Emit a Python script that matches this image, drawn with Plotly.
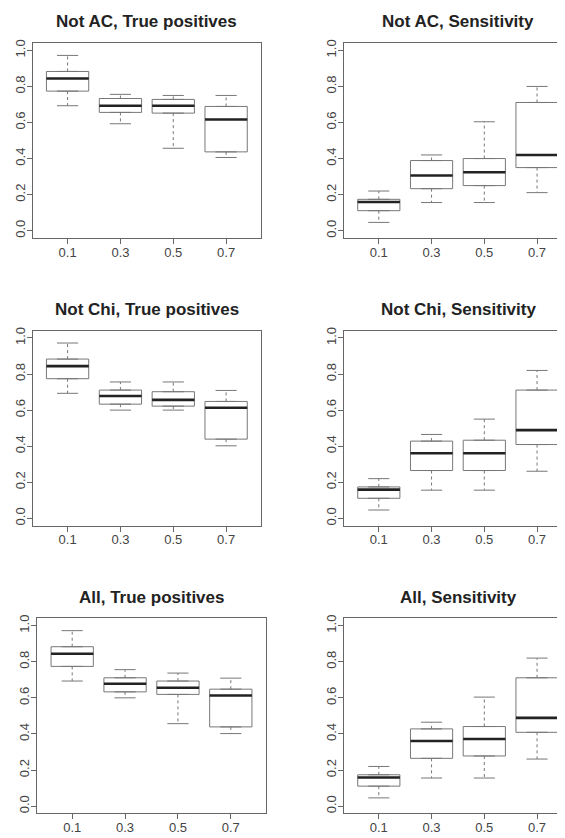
import plotly.graph_objects as go

# ---- data ----
categories = ["0.1", "0.3", "0.5", "0.7"]
titles = ["Not AC, True positives", "Not AC, Sensitivity",
          "Not Chi, True positives", "Not Chi, Sensitivity",
          "All, True positives", "All, Sensitivity"]

notac_tp_lower = [0.693, 0.593, 0.457, 0.406]
notac_tp_q1 = [0.774, 0.656, 0.652, 0.437]
notac_tp_med = [0.844, 0.693, 0.693, 0.617]
notac_tp_q3 = [0.883, 0.733, 0.728, 0.689]
notac_tp_upper = [0.972, 0.756, 0.750, 0.750]

notac_se_lower = [0.046, 0.156, 0.156, 0.211]
notac_se_q1 = [0.111, 0.233, 0.250, 0.350]
notac_se_med = [0.159, 0.306, 0.324, 0.420]
notac_se_q3 = [0.174, 0.389, 0.400, 0.711]
notac_se_upper = [0.220, 0.420, 0.604, 0.800]

notchi_tp_lower = [0.693, 0.600, 0.600, 0.402]
notchi_tp_q1 = [0.774, 0.633, 0.622, 0.439]
notchi_tp_med = [0.844, 0.678, 0.657, 0.613]
notchi_tp_q3 = [0.883, 0.711, 0.702, 0.648]
notchi_tp_upper = [0.972, 0.756, 0.756, 0.709]

notchi_se_lower = [0.046, 0.156, 0.156, 0.261]
notchi_se_q1 = [0.111, 0.265, 0.265, 0.409]
notchi_se_med = [0.159, 0.361, 0.361, 0.489]
notchi_se_q3 = [0.174, 0.428, 0.433, 0.711]
notchi_se_upper = [0.220, 0.465, 0.550, 0.820]

all_tp_lower = [0.693, 0.600, 0.457, 0.402]
all_tp_q1 = [0.774, 0.633, 0.619, 0.439]
all_tp_med = [0.844, 0.678, 0.656, 0.613]
all_tp_q3 = [0.883, 0.711, 0.693, 0.648]
all_tp_upper = [0.972, 0.756, 0.737, 0.709]

all_se_lower = [0.046, 0.156, 0.156, 0.261]
all_se_q1 = [0.111, 0.265, 0.278, 0.409]
all_se_med = [0.159, 0.361, 0.372, 0.489]
all_se_q3 = [0.174, 0.428, 0.441, 0.711]
all_se_upper = [0.220, 0.465, 0.604, 0.820]

panels = [
    (notac_tp_lower, notac_tp_q1, notac_tp_med, notac_tp_q3, notac_tp_upper),
    (notac_se_lower, notac_se_q1, notac_se_med, notac_se_q3, notac_se_upper),
    (notchi_tp_lower, notchi_tp_q1, notchi_tp_med, notchi_tp_q3, notchi_tp_upper),
    (notchi_se_lower, notchi_se_q1, notchi_se_med, notchi_se_q3, notchi_se_upper),
    (all_tp_lower, all_tp_q1, all_tp_med, all_tp_q3, all_tp_upper),
    (all_se_lower, all_se_q1, all_se_med, all_se_q3, all_se_upper),
]

# ---- layout geometry ----
OFF = 8                      # page body margin of the html file
W, H = 565 - OFF, 838 - OFF  # figure size so that it fills the window
BOXW = 0.8
CAPW = 0.4
FRAME = "#666666"
BOXC = "#777777"
TXT = "#444444"
FONT = "Liberation Sans, Arial, sans-serif"

# frames in window pixels (left, right, top, bottom)
frames = [
    (32.7, 261.0, 39.3, 235.0), (344.0, 565.0, 39.3, 235.0),
    (32.7, 261.0, 328.3, 524.0), (344.0, 565.0, 328.3, 524.0),
    (37.3, 265.7, 617.3, 813.3), (344.0, 565.0, 617.3, 813.3),
]
xranges = [[0.34, 4.66], [0.34, 4.53]] * 3
title_centers = [(146.9, 18), (458, 18), (146.9, 306.7), (458, 306.7),
                 (151.5, 596), (458, 596)]


def px_x(v):
    return (v - OFF) / W


def px_y(v):
    return 1 - (v - OFF) / H


fig = go.Figure()
pos = [1, 2, 3, 4]
annotations = []
for i, (lo, q1, med, q3, up) in enumerate(panels):
    k = "" if i == 0 else str(i + 1)
    xa, ya = "x" + k, "y" + k
    fig.add_trace(go.Box(
        x=pos, q1=q1, median=med, q3=q3, lowerfence=q1, upperfence=q3,
        width=BOXW, fillcolor="white", line=dict(color=BOXC, width=1),
        boxpoints=False, hoverinfo="skip", xaxis=xa, yaxis=ya))
    # whiskers (dashed)
    wx, wy = [], []
    for p, a, b, c, d in zip(pos, lo, q1, q3, up):
        wx += [p, p, None, p, p, None]
        wy += [c, d, None, b, a, None]
    fig.add_trace(go.Scatter(x=wx, y=wy, mode="lines",
                             line=dict(color=BOXC, width=1, dash="3px,3px"),
                             hoverinfo="skip", xaxis=xa, yaxis=ya))
    # caps
    cx, cy = [], []
    for p, a, d in zip(pos, lo, up):
        cx += [p - CAPW / 2, p + CAPW / 2, None, p - CAPW / 2, p + CAPW / 2, None]
        cy += [d, d, None, a, a, None]
    fig.add_trace(go.Scatter(x=cx, y=cy, mode="lines",
                             line=dict(color=BOXC, width=1),
                             hoverinfo="skip", xaxis=xa, yaxis=ya))
    # medians
    mx, my = [], []
    for p, m in zip(pos, med):
        mx += [p - BOXW / 2, p + BOXW / 2, None]
        my += [m, m, None]
    fig.add_trace(go.Scatter(x=mx, y=my, mode="lines",
                             line=dict(color="#222222", width=2.6),
                             hoverinfo="skip", xaxis=xa, yaxis=ya))

    l, r, t, b = frames[i]
    right_col = (i % 2 == 1)
    axis_common = dict(showgrid=False, zeroline=False, showline=True,
                       linecolor=FRAME, linewidth=1, ticks="outside",
                       ticklen=5, tickcolor=FRAME,
                       tickfont=dict(family=FONT, size=13, color=TXT))
    fig.layout["xaxis" + k] = dict(
        domain=[px_x(l), min(1.0, px_x(r))], range=xranges[i], anchor=ya,
        tickvals=pos, ticktext=categories, mirror=True,
        ticklabelstandoff=-3, **axis_common)
    fig.layout["yaxis" + k] = dict(
        domain=[px_y(b), px_y(t)], range=[-0.04, 1.04], anchor=xa,
        tickvals=[0, 0.2, 0.4, 0.6, 0.8, 1.0],
        ticktext=["0.0", "0.2", "0.4", "0.6", "0.8", "1.0"],
        tickangle=-90, mirror=(not right_col),
        ticklabelstandoff=-3, **axis_common)
    cxp, cyp = title_centers[i]
    annotations.append(dict(
        text="<b>" + titles[i] + "</b>", xref="paper", yref="paper",
        x=px_x(cxp), y=px_y(cyp), xanchor="center", yanchor="middle",
        showarrow=False, font=dict(family=FONT, size=17, color="#222222")))

fig.update_layout(width=W, height=H, margin=dict(l=0, r=0, t=0, b=0),
                  paper_bgcolor="white", plot_bgcolor="white",
                  showlegend=False, annotations=annotations)
fig.write_html("out.html")
